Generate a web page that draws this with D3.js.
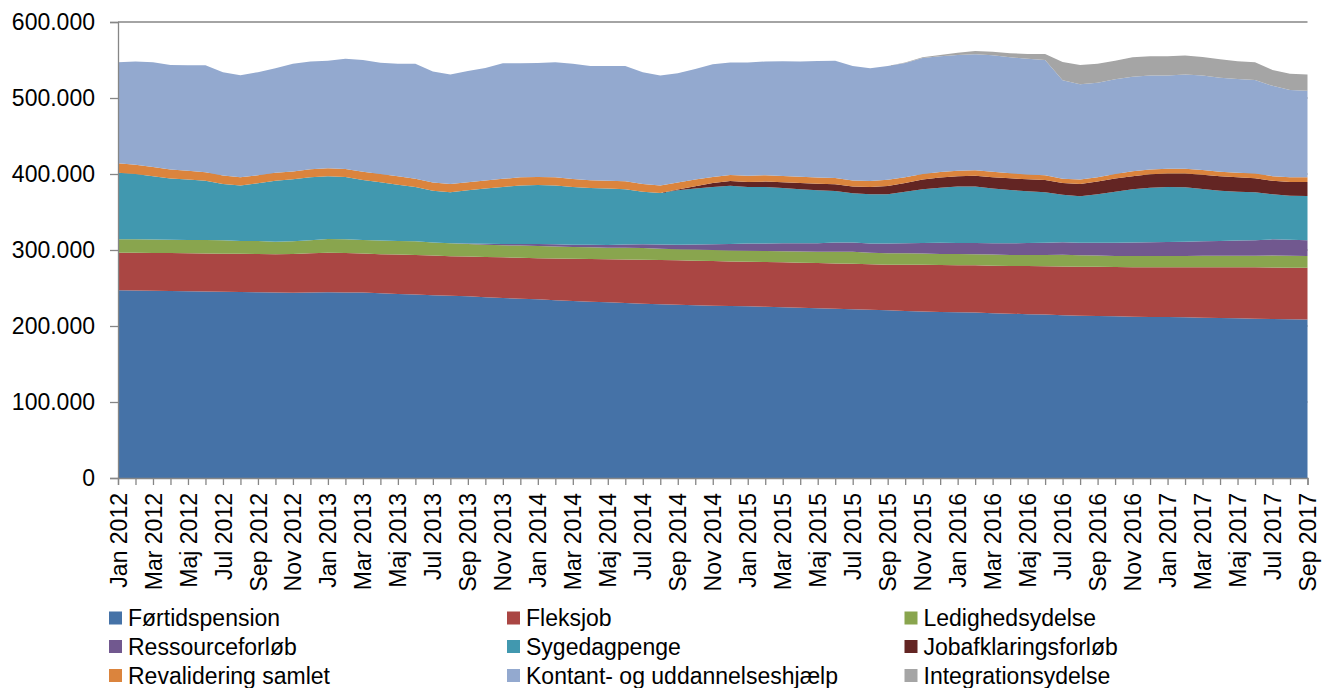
<!DOCTYPE html>
<html>
<head>
<meta charset="utf-8">
<script src="https://cdn.jsdelivr.net/npm/d3@7"></script>
<style>
  body { margin: 0; background: #fff; }
  text { font-family: "Liberation Sans", Arial, sans-serif; fill: #000; }
</style>
</head>
<body>
<svg id="chart" width="1322" height="688"></svg>
<script>
// categories: Jan 2012 - Sep 2017, monthly
const monthNames = ['Jan', 'Feb', 'Mar', 'Apr', 'Maj', 'Jun', 'Jul', 'Aug', 'Sep', 'Okt', 'Nov', 'Dec'];
const years = [2012, 2013, 2014, 2015, 2016, 2017];
const months = [];
years.forEach(yr => monthNames.forEach(m => months.push(m + ' ' + yr)));
months.splice(69); // stops at Sep 2017

// values in thousands of persons
const foertidspension = [247, 246.8, 246.5, 246, 245.7, 245.3, 245, 244.7, 244.3, 244,
  243.9, 244, 244.3, 244.2, 244, 243, 242, 241.3, 240.5, 239.8,
  239, 237.8, 236.9, 236, 235.2, 234, 233, 232, 231.2, 230.3,
  229.4, 228.7, 228, 227.4, 226.8, 226.4, 226, 225.3, 224.6, 224,
  223.3, 222.6, 222, 221.3, 220.7, 219.8, 219.2, 218.5, 218, 217.6,
  216.9, 216.2, 215.6, 215, 214.3, 213.6, 213.2, 212.8, 212.3, 211.9,
  211.7, 211.5, 211, 210.6, 210.1, 209.7, 209.2, 208.8, 208.4];
const fleksjob = [49.5, 49.7, 49.7, 50, 50, 50.1, 50.2, 50.3, 50.5, 50.5,
  50.9, 51.7, 52.2, 52, 51.5, 51.4, 52, 52.2, 52.1, 51.9,
  52.3, 53, 53.5, 53.7, 53.8, 54.8, 55.6, 56.2, 56.6, 57.2,
  57.9, 58.1, 58.4, 58.6, 58.7, 58.6, 58.6, 58.9, 59.2, 59.3,
  59.6, 59.8, 60, 60, 60, 60.9, 61.3, 61.8, 62, 62.2,
  62.5, 62.8, 63.2, 63.5, 64, 64.4, 64.6, 64.8, 65.1, 65.4,
  65.6, 65.8, 66.3, 66.7, 67.1, 67.5, 67.8, 68, 68.4];
const ledighedsydelse = [17.5, 17.5, 17.6, 17.6, 17.5, 17.7, 17.6, 17, 16.9, 16.5,
  16.7, 17.1, 18, 18, 17.5, 18.2, 18, 18, 17.4, 17.1,
  16.5, 16.2, 15.8, 16.1, 16.3, 15.9, 15.4, 15.3, 15.2, 15.5,
  15.2, 15, 14.6, 14.5, 14.5, 14.5, 14.4, 14.4, 14.5, 14.7,
  14.9, 15.4, 15.8, 15.2, 15, 15, 14.8, 14.5, 14.6, 14.6,
  14.6, 14.5, 14.7, 15, 15.6, 15.2, 14.9, 14.6, 14.8, 14.9,
  14.9, 14.9, 15.1, 15.2, 15.3, 15.3, 15.7, 15.7, 15.4];
const ressourceforloeb = [0, 0, 0, 0, 0, 0, 0, 0, 0, 0,
  0, 0, 0, 0, 0, 0, 0, 0, 0, 0.2,
  0.6, 1.2, 1.8, 2.2, 2.7, 2.8, 3, 3.3, 3.6, 4.2,
  5.2, 5.5, 6, 6.7, 7.5, 8.5, 9.4, 10, 10.5, 10.8,
  11, 12.2, 12.2, 12.1, 12.9, 13.1, 13.9, 14.7, 14.7, 14.8,
  15, 15.3, 15.7, 16, 16.2, 16.4, 16.9, 17.4, 17.8, 18.1,
  18.4, 18.8, 19.1, 19.5, 19.9, 20.3, 21.3, 20.9, 20.6];
const sygedagpenge = [87.8, 86, 83.2, 80.4, 79.4, 77.9, 74.2, 73, 76.1, 80,
  81.5, 82.9, 82.5, 81.8, 79, 76.4, 74, 71.5, 68, 67,
  70.2, 72.8, 75, 77, 77.6, 77.5, 76, 74.8, 74.4, 72.8,
  69.1, 67.7, 71.6, 73.8, 75.5, 76.7, 74.6, 74.4, 72.8, 71.2,
  69.8, 67.7, 64.6, 64.9, 64.7, 68, 70.8, 72.5, 74.1, 74.2,
  72, 70.2, 68.1, 66.5, 62.7, 61.1, 63.7, 67.2, 70, 71.7,
  72.4, 71.6, 68.8, 66, 64.4, 63.2, 59.3, 58.1, 58.2];
const jobafklaring = [0, 0, 0, 0, 0, 0, 0, 0, 0, 0,
  0, 0, 0, 0, 0, 0, 0, 0, 0, 0,
  0, 0, 0, 0, 0, 0, 0, 0, 0, 0,
  0, 0, 1, 3, 5, 6, 6.5, 7, 7.4, 8,
  8.6, 8.8, 8.8, 9.5, 11, 11.2, 12.8, 13.5, 13.6, 14.3,
  14.8, 15.3, 15.7, 16, 15.5, 16.2, 16.7, 17.4, 17.2, 17.6,
  17.6, 17.9, 18.6, 18.9, 18.9, 18.4, 17.8, 18, 18.5];
const revalidering = [12.5, 12.3, 12.2, 11.8, 11.6, 11.4, 11, 10.8, 10.6, 10.5,
  10.4, 10.4, 10.5, 10.6, 10.8, 10.9, 10.9, 10.8, 10.7, 10.7,
  10.5, 10.4, 10.6, 10.6, 10.5, 10.6, 10.4, 10.3, 10.2, 10.3,
  10.1, 9.9, 9.3, 8.6, 8.1, 8, 8.3, 8.3, 8.5, 8.4,
  8.3, 8.2, 7.9, 7.8, 8.2, 7.7, 7.2, 7.2, 7.3, 7.2,
  7.1, 6.7, 6.4, 6.4, 5.6, 5.7, 5.7, 5.9, 6.3, 6.4,
  6.4, 6.4, 6.2, 6.1, 6.1, 6.3, 6, 6.1, 6.1];
const kontanthjaelp = [132.7, 135.7, 137.8, 137.7, 138.8, 140.6, 136, 134.2, 135.6, 137.5,
  141.6, 141.9, 141.5, 144.9, 147.2, 146.6, 148.1, 151.2, 146.3, 144.3,
  146.5, 148.1, 152, 150, 149.9, 151.4, 151.6, 150.1, 150.8, 151.7,
  147.1, 144.6, 143.7, 145.4, 148.4, 147.9, 148.8, 149.7, 150.8, 151.6,
  153.3, 154.3, 150.7, 148.2, 149.5, 150.4, 152.7, 152.3, 152.4, 152.7,
  153.4, 152.6, 152.4, 151.6, 129.4, 125.4, 124.3, 124.5, 124.5, 123.5,
  122.5, 124.1, 124.4, 123.8, 123.2, 123.1, 118.9, 115, 114.1];
const integrationsydelse = [0, 0, 0, 0, 0, 0, 0, 0, 0, 0,
  0, 0, 0, 0, 0, 0, 0, 0, 0, 0,
  0, 0, 0, 0, 0, 0, 0, 0, 0, 0,
  0, 0, 0, 0, 0, 0, 0, 0, 0, 0,
  0, 0, 0, 0, 0, 0.5, 0.9, 1.7, 3, 4.4,
  4.7, 5.4, 6.2, 8, 24.2, 25.5, 25, 24.4, 25.6, 25.5,
  25.5, 25, 24.5, 24.2, 23.3, 23.2, 21, 21.4, 21.3];

const seriesNames = ['Førtidspension', 'Fleksjob', 'Ledighedsydelse', 'Ressourceforløb', 'Sygedagpenge',
  'Jobafklaringsforløb', 'Revalidering samlet', 'Kontant- og uddannelseshjælp', 'Integrationsydelse'];
const seriesValues = [foertidspension, fleksjob, ledighedsydelse, ressourceforloeb, sygedagpenge,
  jobafklaring, revalidering, kontanthjaelp, integrationsydelse];
const colors = ['#4572A7', '#AA4643', '#89A54E', '#71588F', '#4198AF', '#632523', '#DB843D', '#93A9CF', '#A5A5A5'];
const yTicks = [0, 100, 200, 300, 400, 500, 600];

const rows = months.map((m, i) => {
  const r = { month: m };
  seriesNames.forEach((s, k) => r[s] = seriesValues[k][i]);
  return r;
});

const svg = d3.select('#chart');
const plotLeft = 118, plotRight = 1307.5, plotTop = 22, plotBottom = 478;
const fontSize = '23px';

const x = d3.scalePoint().domain(months).range([plotLeft, plotRight]);
const y = d3.scaleLinear().domain([0, 600]).range([plotBottom, plotTop]);
const color = d3.scaleOrdinal().domain(seriesNames).range(colors);

const dkFormat = d3.formatLocale({ decimal: ',', thousands: '.', grouping: [3], currency: ['', ' kr.'] }).format(',');

// gridlines (only the top one shows above the areas)
svg.append('g')
   .selectAll('line')
   .data(yTicks)
   .enter()
   .append('line')
   .attr('x1', plotLeft)
   .attr('x2', plotRight)
   .attr('y1', d => y(d))
   .attr('y2', d => y(d))
   .attr('stroke', '#868686')
   .attr('stroke-width', 1.3);

const stacked = d3.stack().keys(seriesNames)(rows);
const area = d3.area()
               .x(d => x(d.data.month))
               .y0(d => y(d[0]))
               .y1(d => y(d[1]));

svg.append('g')
   .selectAll('path')
   .data(stacked)
   .enter()
   .append('path')
   .attr('d', area)
   .attr('fill', d => color(d.key));

// y axis
const yAxis = svg.append('g')
   .attr('transform', `translate(${plotLeft},0)`)
   .call(d3.axisLeft(y).tickValues(yTicks).tickSize(8).tickPadding(15).tickFormat(d => dkFormat(d * 1000)));
yAxis.selectAll('text').style('font-size', fontSize);

// x axis
const xAxis = svg.append('g')
   .attr('transform', `translate(0,${plotBottom})`)
   .call(d3.axisBottom(x).tickSize(7).tickFormat((d, i) => i % 2 === 0 ? d : ''));
xAxis.selectAll('text')
     .attr('transform', 'rotate(-90)')
     .attr('x', -15)
     .attr('y', 0)
     .attr('dy', '0.35em')
     .attr('text-anchor', 'end')
     .style('font-size', fontSize);

svg.selectAll('.domain, .tick line')
   .attr('stroke', '#868686')
   .attr('stroke-width', 1.3);

// legend, 3 columns
const legendX = [109, 507, 904.5];
const legendY = [618, 646.5, 675.5];
const legend = svg.append('g')
   .selectAll('g')
   .data(seriesNames)
   .enter()
   .append('g')
   .attr('transform', (d, i) => `translate(${legendX[i % 3]},${legendY[Math.floor(i / 3)]})`);
legend.append('rect')
      .attr('x', 0)
      .attr('y', -6.5)
      .attr('width', 13)
      .attr('height', 13)
      .attr('fill', d => color(d));
legend.append('text')
      .attr('x', 19)
      .attr('y', 0)
      .attr('dy', '0.35em')
      .style('font-size', fontSize)
      .text(d => d);
</script>
</body>
</html>
